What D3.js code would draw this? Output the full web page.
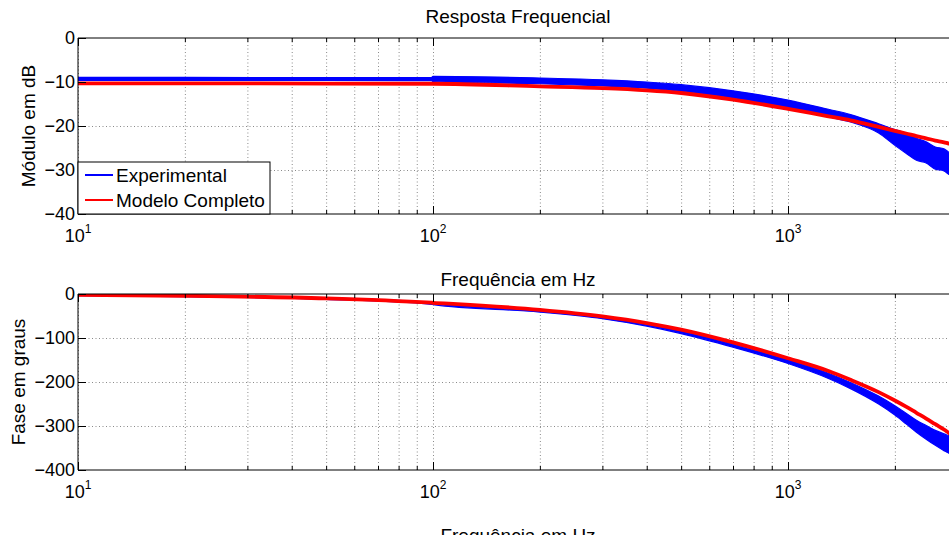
<!DOCTYPE html>
<html>
<head>
<meta charset="utf-8">
<script src="https://cdn.jsdelivr.net/npm/d3@7"></script>
<style>
  body { margin: 0; background: #fff; }
  svg { display: block; font-family: "Liberation Sans", Arial, Helvetica, sans-serif; }
  .grid line { stroke: #8a8a8a; stroke-dasharray: 1,2.5; }
  .grid path { display: none; }
  .ticks line { stroke: #000; }
  .ticks path { display: none; }
</style>
</head>
<body>
<script>
// frequency points (Hz)
const freq = [10, 20, 50, 99, 100, 200, 300, 400, 500, 700, 1000, 1300, 1500, 1800, 2000, 2150, 2300, 2450, 2600, 2750, 2840, 3000];

// magnitude (dB)
const magModel = [-10.3, -10.3, -10.35, -10.4, -10.4, -11.0, -11.4, -11.9, -12.5, -14.0, -16.1, -17.8, -18.7, -20.2, -21.1, -21.7, -22.3, -22.8, -23.3, -23.7, -24.0, -24.4];
const magExpHi = [-8.95, -8.95, -9.0, -9.0, -8.7, -9.1, -9.5, -10.0, -10.6, -12.0, -14.1, -16.2, -17.4, -19.5, -20.8, -21.6, -22.8, -23.6, -24.8, -25.2, -26.0, -26.8];
const magExpLo = [-9.65, -9.65, -9.65, -9.7, -9.9, -10.4, -10.9, -11.4, -12.1, -13.7, -16.0, -17.9, -19.1, -21.6, -24.4, -26.2, -27.8, -28.4, -29.8, -30.2, -31.0, -31.5];

// phase (degrees)
const phaseModel = [-2, -4, -10, -19.8, -20, -36, -51, -66, -81, -110, -146, -175, -195, -223, -242, -256, -270, -283, -296, -308, -316, -329];
const phaseExpHi = [-1, -3, -9, -19.5, -20, -37, -52, -68, -84, -114, -149, -180, -201, -232, -254, -271, -287, -299, -310, -318, -322, -330];
const phaseExpLo = [-4, -6, -12, -23.5, -24, -41, -56, -73, -90, -121, -158, -192, -215, -250, -275, -295, -314, -330, -344, -356, -362, -368];

const legendLabels = ['Experimental', 'Modelo Completo'];
const magTicks = [0, -10, -20, -30, -40];
const phaseTicks = [0, -100, -200, -300, -400];
const decades = [10, 100, 1000];

const W = 949, H = 535;
const BLUE = '#0000ff', RED = '#ff0000';

const svg = d3.select('body').append('svg')
  .attr('width', W)
  .attr('height', H);

const x = d3.scaleLog().domain([10, 3000]).range([78, 78 + 355 * Math.log10(300)]);

const minorTicks = [];
[10, 100, 1000].forEach(d => {
  for (let k = 2; k <= 9; k++) if (d * k <= 3000) minorTicks.push(d * k);
});

const fmt = v => v === 0 ? '0' : '\u2212' + Math.abs(v);

function panel(cfg) {
  const y = d3.scaleLinear().domain(cfg.domain).range([cfg.bottom, cfg.top]);
  const g = svg.append('g');
  const h = cfg.bottom - cfg.top;
  const clipId = 'clip' + cfg.top;

  g.append('clipPath').attr('id', clipId)
    .append('rect')
      .attr('x', x.range()[0]).attr('y', cfg.top)
      .attr('width', x.range()[1] - x.range()[0]).attr('height', h);

  // dotted grid
  g.append('g').attr('class', 'grid')
    .attr('transform', `translate(0,${cfg.bottom})`)
    .call(d3.axisBottom(x).tickValues(decades.concat(minorTicks)).tickSize(-h).tickFormat(''));
  g.append('g').attr('class', 'grid')
    .attr('transform', `translate(${x.range()[0]},0)`)
    .call(d3.axisLeft(y).tickValues(cfg.ticks.slice(1, -1)).tickSize(-(x.range()[1] - x.range()[0])).tickFormat(''));

  // data
  const plot = g.append('g').attr('clip-path', `url(#${clipId})`);
  const band = d3.area()
    .x((d, i) => x(freq[i]))
    .y0((d, i) => y(cfg.lo[i]))
    .y1((d, i) => y(cfg.hi[i]))
    .curve(d3.curveMonotoneX);
  plot.append('path')
    .datum(freq)
    .attr('d', band)
    .attr('fill', BLUE)
    .attr('stroke', BLUE)
    .attr('stroke-width', 1.2);
  const line = d3.line()
    .x((d, i) => x(freq[i]))
    .y(d => y(d))
    .curve(d3.curveMonotoneX);
  plot.append('path')
    .datum(cfg.model)
    .attr('d', line)
    .attr('fill', 'none')
    .attr('stroke', RED)
    .attr('stroke-width', 3.8);

  // ticks (inside) on bottom, top and left
  g.append('g').attr('class', 'ticks')
    .attr('transform', `translate(0,${cfg.bottom})`)
    .call(d3.axisBottom(x).tickValues(decades).tickSize(-8).tickFormat(''))
    .call(a => a.append('g').call(d3.axisBottom(x).tickValues(minorTicks).tickSize(-4).tickFormat('')));
  g.append('g').attr('class', 'ticks')
    .attr('transform', `translate(0,${cfg.top})`)
    .call(d3.axisTop(x).tickValues(decades).tickSize(-8).tickFormat(''))
    .call(a => a.append('g').call(d3.axisTop(x).tickValues(minorTicks).tickSize(-4).tickFormat('')));
  g.append('g').attr('class', 'ticks')
    .attr('transform', `translate(${x.range()[0]},0)`)
    .call(d3.axisLeft(y).tickValues(cfg.ticks).tickSize(-8).tickFormat(''));

  // frame
  g.append('line').attr('x1', x.range()[0]).attr('x2', W).attr('y1', cfg.top).attr('y2', cfg.top).attr('stroke', '#000');
  g.append('line').attr('x1', x.range()[0]).attr('x2', W).attr('y1', cfg.bottom).attr('y2', cfg.bottom).attr('stroke', '#000');
  g.append('line').attr('x1', x.range()[0]).attr('x2', x.range()[0]).attr('y1', cfg.top).attr('y2', cfg.bottom).attr('stroke', '#000');

  // y tick labels
  g.selectAll('.ylab').data(cfg.ticks).enter().append('text')
    .attr('x', 75).attr('y', d => y(d)).attr('dy', '0.36em')
    .attr('text-anchor', 'end').attr('font-size', 18)
    .text(fmt);

  // x tick labels 10^n
  decades.forEach(d => {
    const t = g.append('text')
      .attr('x', x(d)).attr('y', cfg.bottom + 28)
      .attr('text-anchor', 'middle').attr('font-size', 18);
    t.append('tspan').text('10');
    t.append('tspan').attr('dy', -9).attr('font-size', 12).text(Math.log10(d));
  });

  // y axis label
  svg.append('text')
    .attr('transform', `translate(${cfg.ylabX},${(cfg.top + cfg.bottom) / 2}) rotate(-90)`)
    .attr('text-anchor', 'middle').attr('font-size', 19)
    .text(cfg.ylabel);

  // x axis label
  svg.append('text')
    .attr('x', 518).attr('y', cfg.bottom + 72)
    .attr('text-anchor', 'middle').attr('font-size', 19)
    .text('Frequência em Hz');
}

panel({ top: 38, bottom: 214, domain: [-40, 0], ticks: magTicks, model: magModel, hi: magExpHi, lo: magExpLo, ylabel: 'Módulo em dB', ylabX: 35 });
panel({ top: 294, bottom: 470, domain: [-400, 0], ticks: phaseTicks, model: phaseModel, hi: phaseExpHi, lo: phaseExpLo, ylabel: 'Fase em graus', ylabX: 25 });

svg.append('text')
  .attr('x', 518).attr('y', 23)
  .attr('text-anchor', 'middle').attr('font-size', 19)
  .text('Resposta Frequencial');

// legend
const legend = svg.append('g');
legend.append('rect')
  .attr('x', 78).attr('y', 162).attr('width', 192).attr('height', 52)
  .attr('fill', '#fff').attr('stroke', '#000');
[BLUE, RED].forEach((c, i) => {
  const yy = 175 + i * 25;
  legend.append('line')
    .attr('x1', 85).attr('x2', 113).attr('y1', yy).attr('y2', yy)
    .attr('stroke', c).attr('stroke-width', 2);
  legend.append('text')
    .attr('x', 116).attr('y', yy).attr('dy', '0.36em')
    .attr('font-size', 19)
    .text(legendLabels[i]);
});
</script>
</body>
</html>
